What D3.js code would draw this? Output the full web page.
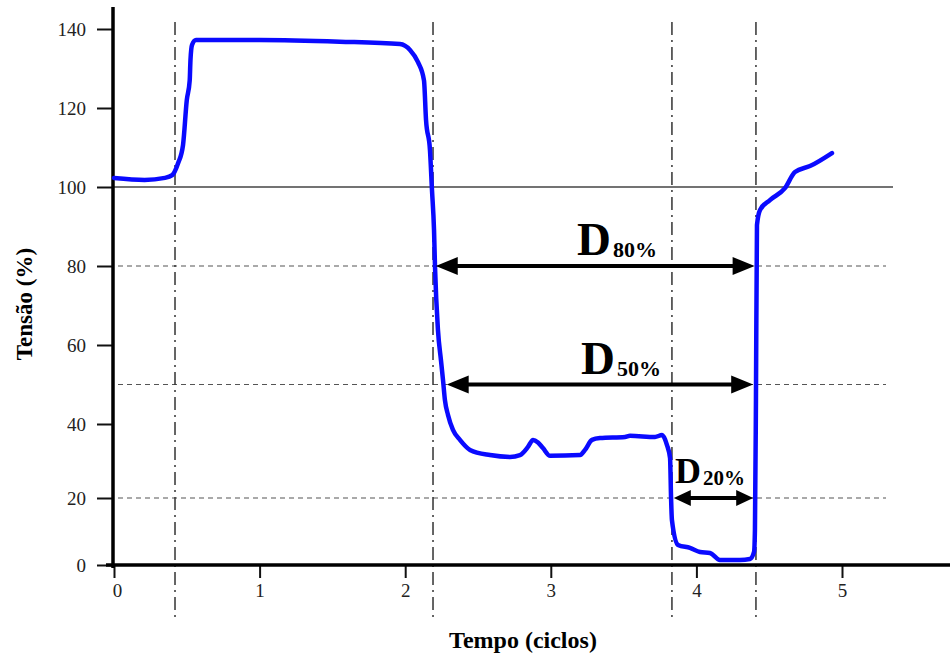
<!DOCTYPE html>
<html>
<head>
<meta charset="utf-8">
<script src="https://cdn.jsdelivr.net/npm/d3@7"></script>
<style>
  body { margin: 0; background: #fff; }
  svg text { font-family: "Liberation Serif", "Times New Roman", serif; }
</style>
</head>
<body>
<svg id="chart" width="950" height="659"></svg>
<script>
// curve (tempo in ciclos, tensao in %)
const tempo = [0, 0.21, 0.35, 0.40, 0.44, 0.474, 0.50, 0.52, 0.525, 0.536, 0.563, 1.0, 1.55, 1.964, 2.033, 2.088,
  2.129, 2.143, 2.170, 2.184, 2.198, 2.205, 2.225, 2.246, 2.26, 2.273, 2.294, 2.328, 2.376, 2.445, 2.582,
  2.720, 2.788, 2.843, 2.878, 2.912, 2.946, 2.995, 3.201, 3.235, 3.283, 3.338, 3.510, 3.544, 3.716,
  3.764, 3.798, 3.819, 3.826, 3.832, 3.874, 3.956, 4.025, 4.093, 4.162, 4.299, 4.368, 4.396, 4.402,
  4.409, 4.416, 4.437, 4.505, 4.608, 4.677, 4.780, 4.931];
const tensao = [102.3, 101.8, 102.3, 103, 106, 110.6, 122, 127, 132, 136, 137.2, 137.2, 136.8, 136.2, 134.7, 131.6,
  127, 117, 109.4, 99.2, 89.1, 79.5, 63.8, 56, 51, 46, 42.3, 38.4, 35.7, 33, 31.6,
  31.1, 31.6, 33.8, 35.7, 35, 33.5, 31.4, 31.6, 33, 35.7, 36.2, 36.5, 36.8, 36.5,
  37, 34.3, 30.8, 20, 13.4, 6, 5.1, 3.9, 3.6, 1.5, 1.5, 1.8, 3.9, 10.4,
  46, 90.4, 94.2, 96.7, 99.7, 103.8, 105.3, 108.6];

const yTicks = [0, 20, 40, 60, 80, 100, 120, 140];
const xTicks = [0, 1, 2, 3, 4, 5];
const levels = [80, 50, 20];           // dashed reference levels
const eventos = [0.419, 2.191, 3.832, 4.409]; // dash-dot vertical markers
const duracoes = [
  { nome: "80%", nivel: 80, t0: 2.21, t1: 4.40 },
  { nome: "50%", nivel: 50, t0: 2.285, t1: 4.39 },
  { nome: "20%", nivel: 20, t0: 3.845, t1: 4.39 }
];

const serif = '"Liberation Serif", "Times New Roman", serif';
const svg = d3.select("#chart");

const x = d3.scaleLinear().domain([0, 5]).range([114, 842]);
// the drawing is not quite linear in y, so use a piecewise scale
const y = d3.scaleLinear().domain([0, 20, 40, 100, 140]).range([565, 498, 424, 187, 29]);

// reference lines
svg.append("line")
  .attr("x1", x(0)).attr("x2", 893)
  .attr("y1", y(100)).attr("y2", y(100))
  .attr("stroke", "#444").attr("stroke-width", 1.3);

svg.selectAll(".nivel")
  .data(levels)
  .enter()
  .append("line")
  .attr("class", "nivel")
  .attr("x1", x(0) + 4).attr("x2", 886)
  .attr("y1", (d) => y(d)).attr("y2", (d) => y(d))
  .attr("stroke", "#555").attr("stroke-width", 1.2)
  .attr("stroke-dasharray", "5,4");

svg.selectAll(".evento")
  .data(eventos)
  .enter()
  .append("line")
  .attr("class", "evento")
  .attr("x1", (d) => x(d)).attr("x2", (d) => x(d))
  .attr("y1", 22).attr("y2", 620)
  .attr("stroke", "#333").attr("stroke-width", 1.5)
  .attr("stroke-dasharray", "13,5,2,5");

// axes
const yAxis = svg.append("g")
  .attr("transform", `translate(${x(0) - 1},0)`)
  .call(d3.axisLeft(y).tickValues(yTicks).tickSize(16).tickPadding(11))
  .attr("font-family", serif);
yAxis.select(".domain").remove();
yAxis.selectAll(".tick line").attr("stroke", "#111").attr("stroke-width", 2);
yAxis.selectAll("text").attr("font-size", 19).attr("fill", "#222");

const xAxis = svg.append("g")
  .attr("transform", `translate(0,${y(0)})`)
  .call(d3.axisBottom(x).tickValues(xTicks).tickFormat(d3.format("d")).tickSize(13).tickPadding(6))
  .attr("font-family", serif);
xAxis.select(".domain").remove();
xAxis.selectAll(".tick line").attr("stroke", "#111").attr("stroke-width", 2);
xAxis.selectAll("text").attr("font-size", 19).attr("fill", "#222");
xAxis.selectAll(".tick").filter((d) => d === 0).select("text").attr("dx", 3);

svg.append("line")
  .attr("x1", x(0) - 1).attr("x2", x(0) - 1)
  .attr("y1", 7).attr("y2", y(0) + 3)
  .attr("stroke", "#000").attr("stroke-width", 3.5);
svg.append("line")
  .attr("x1", x(0) - 8).attr("x2", 950)
  .attr("y1", y(0)).attr("y2", y(0))
  .attr("stroke", "#000").attr("stroke-width", 3.5);

// curve
const linha = d3.line()
  .x((d, i) => x(tempo[i]))
  .y((d, i) => y(tensao[i]))
  .curve(d3.curveMonotoneX);

svg.append("path")
  .datum(tensao)
  .attr("d", linha)
  .attr("fill", "none")
  .attr("stroke", "#0a0aff")
  .attr("stroke-width", 4.5)
  .attr("stroke-linejoin", "round")
  .attr("stroke-linecap", "round");

// duration arrows
function arrowHead(tip, dir, len, half) {
  return `M${tip[0]},${tip[1]}L${tip[0] - dir * len},${tip[1] - half}L${tip[0] - dir * len},${tip[1] + half}Z`;
}

duracoes.forEach((d) => {
  const yy = y(d.nivel);
  const a = x(d.t0), b = x(d.t1);
  const small = d.nivel === 20;
  const len = small ? 17 : 22, half = small ? 8 : 9;
  svg.append("line")
    .attr("x1", a + len - 2).attr("x2", b - len + 2)
    .attr("y1", yy).attr("y2", yy)
    .attr("stroke", "#000").attr("stroke-width", 4);
  svg.append("path").attr("d", arrowHead([a, yy], -1, len, half)).attr("fill", "#000");
  svg.append("path").attr("d", arrowHead([b, yy], 1, len, half)).attr("fill", "#000");
});

// labels D80%, D50%, D20%
const rotulos = [
  { sub: "80%", x: 577, y: 255, big: 47, small: 22 },
  { sub: "50%", x: 581, y: 374, big: 47, small: 22 },
  { sub: "20%", x: 675, y: 483, big: 36, small: 21 }
];
rotulos.forEach((r) => {
  const t = svg.append("text")
    .attr("x", r.x).attr("y", r.y)
    .attr("font-weight", "bold").attr("fill", "#000");
  t.append("tspan").attr("font-size", r.big).text("D");
  t.append("tspan").attr("font-size", r.small).attr("dy", 2).attr("dx", 2).text(r.sub);
});

// axis titles
svg.append("text")
  .attr("transform", "translate(32,304) rotate(-90)")
  .attr("text-anchor", "middle")
  .attr("font-size", 23).attr("font-weight", "bold")
  .text("Tensão (%)");

svg.append("text")
  .attr("x", 523).attr("y", 648)
  .attr("text-anchor", "middle")
  .attr("font-size", 24).attr("font-weight", "bold")
  .text("Tempo (ciclos)");
</script>
</body>
</html>
